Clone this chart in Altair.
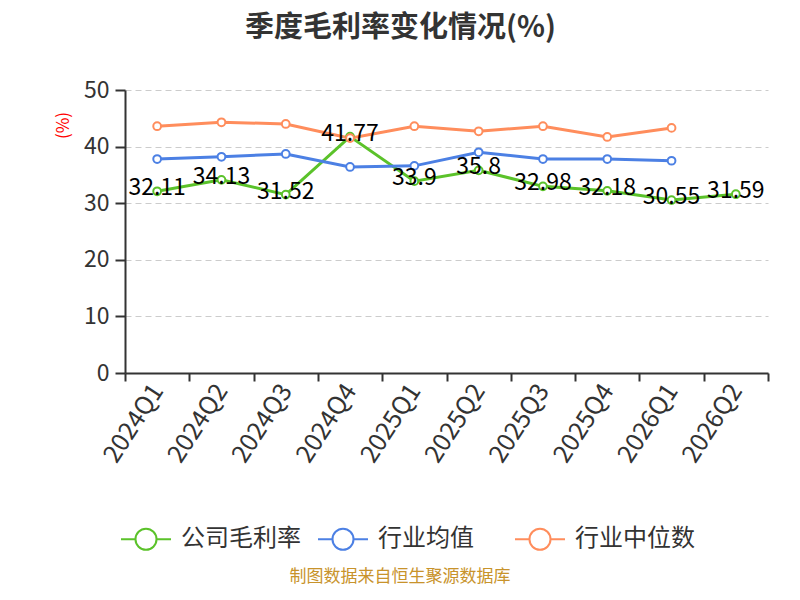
import altair as alt
import pandas as pd

quarters = ['2024Q1', '2024Q2', '2024Q3', '2024Q4', '2025Q1',
            '2025Q2', '2025Q3', '2025Q4', '2026Q1', '2026Q2']
company = [32.11, 34.13, 31.52, 41.77, 33.9, 35.8, 32.98, 32.18, 30.55, 31.59]
industry_avg = [37.8, 38.2, 38.7, 36.4, 36.6, 39.0, 37.8, 37.8, 37.5]
industry_median = [43.6, 44.3, 44.0, 41.5, 43.6, 42.7, 43.6, 41.7, 43.3]

series = ['公司毛利率', '行业均值', '行业中位数']
colors = ['#5BC22A', '#4C80E4', '#FF8D5C']

FONT = 'Noto Sans CJK SC'

rows = []
for name, vals in zip(series, [company, industry_avg, industry_median]):
    for q, v in zip(quarters, vals):
        rows.append({'quarter': q, 'series': name, 'value': v, 'label': str(v)})
data = pd.DataFrame(rows)

# legend symbol: short line with a hollow circle in the middle
legend_symbol = 'M-1,0H-0.42M0.42,0H1M0.42,0A0.42,0.42,0,1,1,-0.42,0A0.42,0.42,0,1,1,0.42,0'

x = alt.X('quarter:N', sort=quarters,
          scale=alt.Scale(type='band', paddingInner=0, paddingOuter=0),
          axis=alt.Axis(title=None, labelAngle=-57, tickBand='extent',
                        labelFontSize=25, labelColor='#333', labelFont=FONT,
                        domainColor='#333', domainWidth=2, tickColor='#333',
                        tickWidth=2, tickSize=8, labelPadding=5, grid=False))
y = alt.Y('value:Q', scale=alt.Scale(domain=[0, 50]),
          axis=alt.Axis(values=[0, 10, 20, 30, 40, 50], title='(%)',
                        titleColor='red', titleFontSize=17, titleFontWeight='normal',
                        titleFont=FONT, titleX=-62, titleY=35,
                        titleAlign='center', titleBaseline='middle',
                        labelFontSize=23, labelColor='#333', labelFont=FONT,
                        labelPadding=6, domainColor='#333', domainWidth=2,
                        tickColor='#333', tickWidth=2, tickSize=10,
                        grid=True, gridColor='#ccc', gridDash=[6, 4]))
color = alt.Color('series:N', sort=series,
                  scale=alt.Scale(domain=series, range=colors),
                  legend=alt.Legend(title=None, orient='none', direction='horizontal',
                                    legendX=-5, legendY=423, columns=3, gridAlign='all',
                                    symbolType=legend_symbol, symbolSize=2500,
                                    symbolStrokeWidth=2, symbolFillColor='white',
                                    labelFontSize=24, labelColor='#333', labelFont=FONT,
                                    labelOffset=9, columnPadding=13))

base = alt.Chart(data)

lines = base.mark_line(strokeWidth=3).encode(x=x, y=y, color=color)
points = base.mark_point(filled=True, fill='white', size=60, strokeWidth=2, opacity=1).encode(
    x=x, y=y, stroke=alt.Stroke('series:N', sort=series,
                                scale=alt.Scale(domain=series, range=colors), legend=None))
labels = base.transform_filter(alt.datum.series == '公司毛利率').mark_text(
    fontSize=23, color='black', font=FONT, baseline='middle', dy=-3
).encode(x=x, y=y, text='label:N')

footer = alt.Chart(pd.DataFrame({'t': ['制图数据来自恒生聚源数据库']})).mark_text(
    fontSize=17, color='#C8932B', font=FONT, baseline='middle'
).encode(x=alt.value(275), y=alt.value(487), text='t:N')

chart = alt.layer(lines, points, labels, footer).properties(
    width=643, height=283,
    autosize='none',
    padding={'left': 117, 'top': 82, 'right': 24, 'bottom': 214},
    title=alt.Title('季度毛利率变化情况(%)', fontSize=29, font=FONT, color='#333',
                    fontWeight='bold', anchor='middle', dx=-46, offset=36)
).configure_view(stroke=None)

chart.save("out.html", embed_options={"renderer": "svg", "actions": False})
